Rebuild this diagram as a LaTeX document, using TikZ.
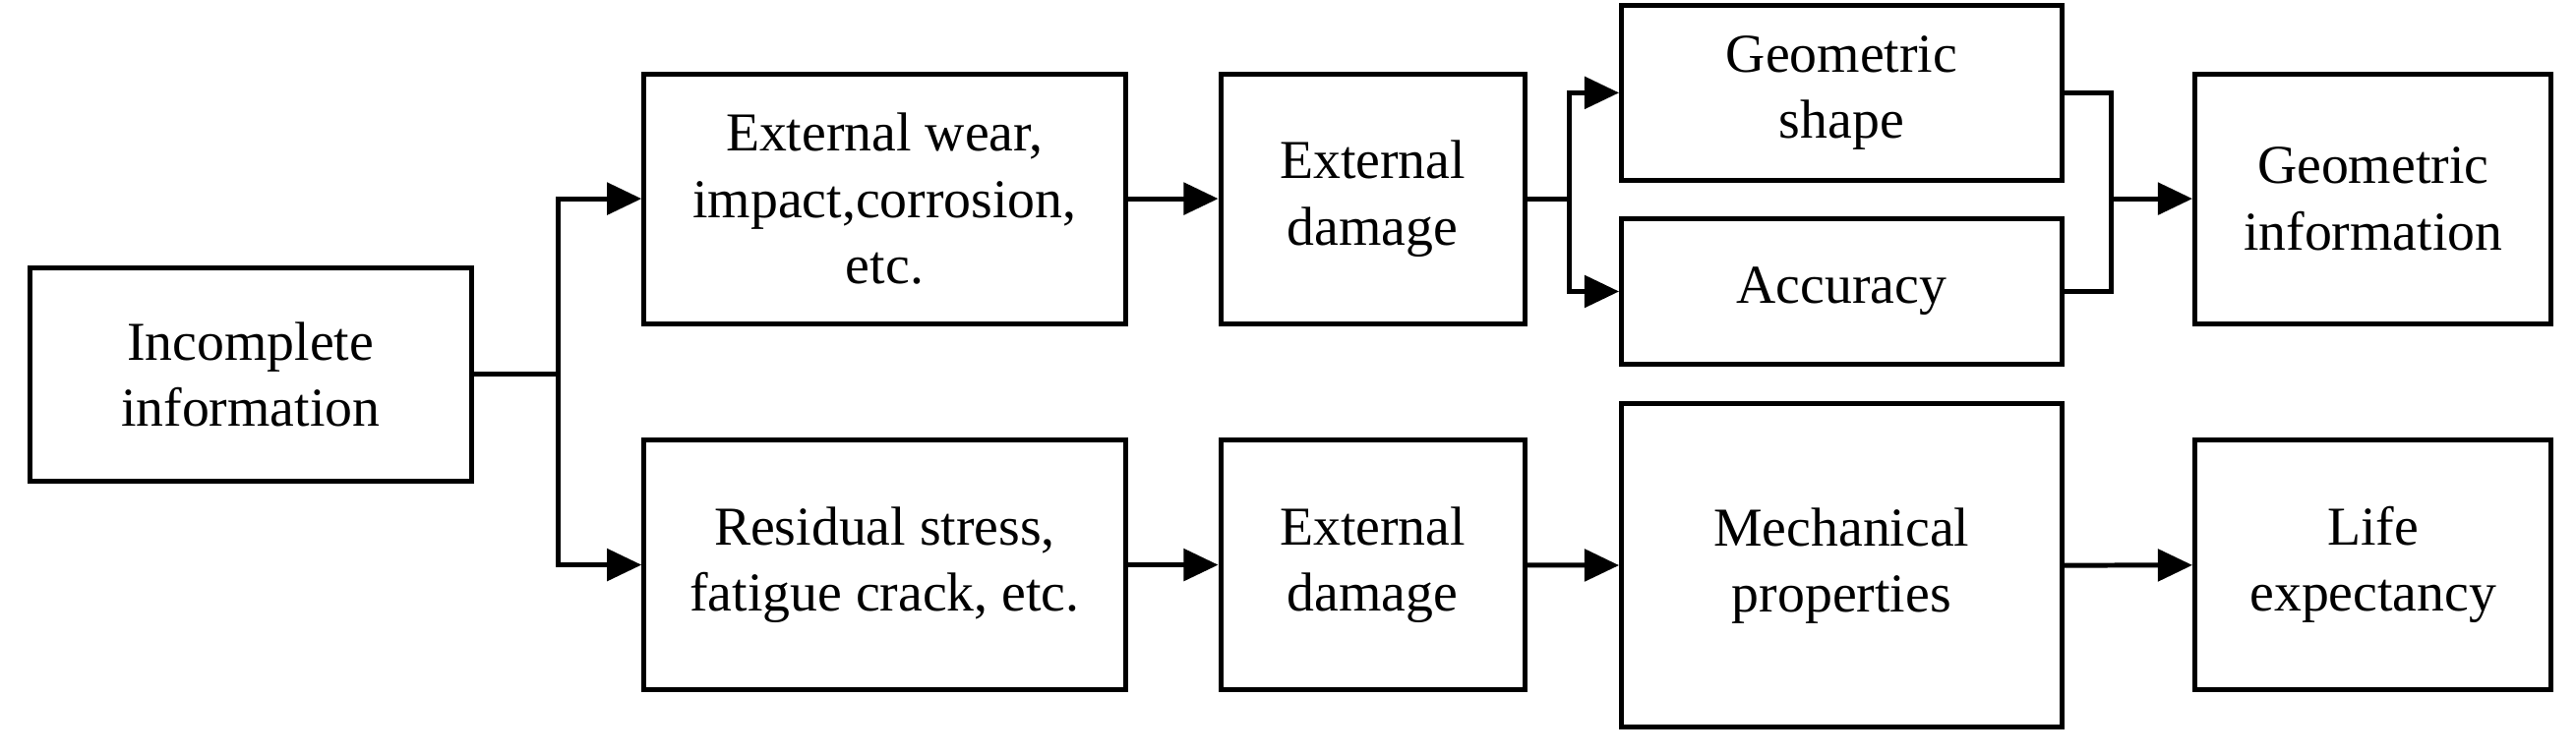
\documentclass[tikz,border=0pt]{standalone}
\usepackage{fontspec}
\setmainfont{Liberation Serif}
\usetikzlibrary{arrows.meta}
\begin{document}
\begin{tikzpicture}[x=0.02cm,y=-0.02cm,
  box/.style={draw,line width=1.7pt,align=center,inner sep=0pt,font=\fontsize{19}{23}\selectfont},
  ln/.style={line width=1.7pt},
  arr/.style={line width=1.7pt,-{Triangle[length=12pt,width=11pt]}}]
\useasboundingbox (0,0) rectangle (1568,460);
\newcommand{\bx}[6]{\node[box,minimum width={(#4-#2)*0.02cm},minimum height={(#5-#3)*0.02cm}] (#1) at ({(#2+#4)/2},{(#3+#5)/2}) {#6};}
\bx{inc}{18}{163}{287}{293}{Incomplete\\information}
\bx{t1}{392}{45}{685}{197}{External wear,\\impact,corrosion,\\etc.}
\bx{b1}{392}{268}{685}{420}{Residual stress,\\fatigue crack, etc.}
\bx{t2}{743}{45}{928}{197}{External\\damage}
\bx{b2}{743}{268}{928}{420}{External\\damage}
\bx{gs}{987}{3}{1255}{110}{Geometric\\shape}
\bx{ac}{987}{133}{1255}{222}{Accuracy}
\bx{mp}{987}{246}{1255}{443}{Mechanical\\properties}
\bx{gi}{1336}{45}{1553}{197}{Geometric\\information}
\bx{le}{1336}{268}{1553}{420}{Life\\expectancy}
\coordinate (j1) at (340,228);
\coordinate (j2) at (955,121);
\coordinate (j3) at (1285,121);
\draw[ln] (inc.east) -- (j1);
\draw[arr] (j1) |- (t1.west);
\draw[arr] (j1) |- (b1.west);
\draw[arr] (t1) -- (t2);
\draw[arr] (b1) -- (b2);
\draw[ln] (t2.east) -- (j2);
\draw[arr] (j2) |- (gs.west);
\draw[arr] (j2) |- (ac.west);
\draw[ln] (gs.east) -| (j3);
\draw[ln] (ac.east) -| (j3);
\draw[arr] (j3) -- (gi.west);
\draw[arr] (b2) -- (mp);
\draw[arr] (mp) -- (le);
\end{tikzpicture}
\end{document}
